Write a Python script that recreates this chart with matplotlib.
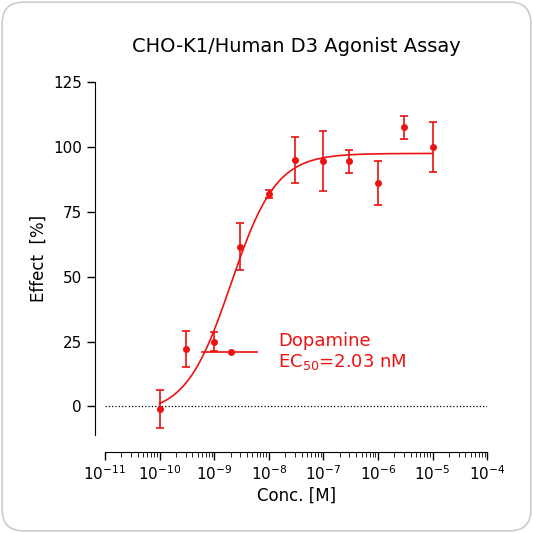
import numpy as np
import matplotlib.pyplot as plt
from matplotlib.patches import FancyBboxPatch
from matplotlib.ticker import LogLocator, FixedLocator

conc = [1e-10, 3e-10, 1e-9, 3e-9, 1e-8, 3e-8, 1e-7, 3e-7, 1e-6, 3e-6, 1e-5]
effect = [-1, 22, 25, 61.5, 82, 95, 94.5, 94.5, 86, 107.5, 100]
err = [7.5, 7, 3.5, 9, 1.5, 9, 11.5, 4.5, 8.5, 4.5, 9.5]
# fitted curve params
bottom, top, ec50, hill = -3.0, 97.5, 2.03e-9, 1.05

red = '#ee1111'
fig = plt.figure(figsize=(5.33, 5.33), dpi=100)
fig.patches.append(FancyBboxPatch((0.004, 0.004), 0.992, 0.992, boxstyle='round,pad=0,rounding_size=0.04',
                                  transform=fig.transFigure, fc='none', ec='#cccccc', lw=1.2, zorder=-10))
ax = fig.add_axes([0.197, 0.184, 0.717, 0.662])
ax.patch.set_alpha(0)
xs = np.logspace(-10, -5, 300)
ax.plot(xs, bottom + (top - bottom) / (1 + (ec50 / xs) ** hill), color=red, lw=1.2)
ax.errorbar(conc, effect, yerr=err, fmt='o', color=red, ms=4, capsize=3, elinewidth=1.2, capthick=1.2)
ax.axhline(0, color='black', ls=':', lw=0.9)
ax.set_xscale('log')
ax.set_xlim(1e-11, 1e-4)
ax.set_ylim(-11, 125)
ax.set_yticks([0, 25, 50, 75, 100, 125])
ax.xaxis.set_major_locator(FixedLocator([10.0 ** k for k in range(-11, -3)]))
ax.xaxis.set_minor_locator(LogLocator(base=10, subs=np.arange(2, 10), numticks=20))
ax.spines['top'].set_visible(False)
ax.spines['right'].set_visible(False)
ax.spines['left'].set_position(('outward', 7))
ax.spines['bottom'].set_position(('outward', 12))
ax.tick_params(labelsize=11, width=1, length=6)
ax.tick_params(which='minor', length=3.5)
ax.set_xlabel('Conc. [M]', fontsize=12, labelpad=2)
ax.set_ylabel('Effect  [%]', fontsize=12)
ax.set_title('CHO-K1/Human D3 Agonist Assay', fontsize=14, pad=22)
ax.plot([6e-10 * 1, 6e-9], [21, 21], color=red, lw=1.2)
ax.plot([2e-9], [21], 'o', color=red, ms=4)
ax.text(1.5e-8, 21, 'Dopamine\nEC$_{50}$=2.03 nM', color=red, fontsize=13, va='center', linespacing=1.1)
fig.savefig('out.png')
